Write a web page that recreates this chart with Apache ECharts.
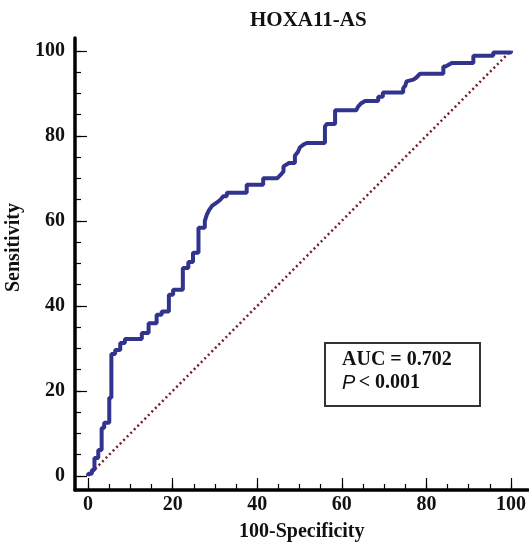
<!DOCTYPE html>
<html>
<head>
<meta charset="utf-8">
<script src="https://cdn.jsdelivr.net/npm/echarts@6/dist/echarts.min.js"></script>
<style>
  html, body { margin: 0; padding: 0; background: #fff; }
  #main { width: 529px; height: 551px; }
</style>
</head>
<body>
<div id="main"></div>
<script>
// data
var chartTitle = 'HOXA11-AS';
var xName = '100-Specificity';
var yName = 'Sensitivity';
var xTickLabels = [0, 20, 40, 60, 80, 100];
var yTickLabels = [0, 20, 40, 60, 80, 100];
// ROC curve vertices (100-Specificity, Sensitivity)
var rocFpr = [0, 0, 0.9, 0.9, 1.5, 1.5, 2.4, 2.4, 3.2, 3.2, 3.8, 3.8, 5.0, 5.0, 5.5, 5.5, 6.4, 6.4, 7.6, 7.6, 8.7, 8.7,
  12.7, 12.7, 14.3, 14.3, 16.2, 16.2, 17.4, 17.4, 19.1, 19.1, 20.1, 20.1, 22.4, 22.4, 23.7, 23.7, 24.8, 24.8,
  26.1, 26.1, 27.6, 27.6, 28.1, 28.6, 29.3, 30.3, 31.2, 32.0, 32.8, 32.8, 37.5, 37.5, 41.4, 41.4, 44.7, 45.5,
  46.2, 46.2, 47.5, 48.9, 48.9, 49.6, 50.1, 51.0, 51.7, 56.0, 56.0, 56.5, 58.4, 58.4, 63.4, 63.8, 64.5, 65.5,
  68.6, 68.6, 69.7, 69.7, 74.5, 74.5, 75.0, 75.3, 76.9, 77.5, 78.5, 84.0, 84.0, 84.5, 86.0, 91.1, 91.1, 95.8,
  95.8, 100, 100];
var rocTpr = [0, 0.5, 0.5, 1.4, 1.4, 4.2, 4.2, 6.1, 6.1, 11.3, 11.3, 12.5, 12.5, 18.4, 18.4, 28.7, 28.7, 29.6, 29.6, 31.3, 31.3, 32.2,
  32.2, 33.6, 33.6, 35.9, 35.9, 37.9, 37.9, 38.7, 38.7, 42.6, 42.6, 43.8, 43.8, 48.9, 48.9, 50.3, 50.3, 52.5,
  52.5, 58.4, 58.4, 60.0, 61.5, 62.5, 63.5, 64.2, 64.9, 65.8, 65.8, 66.6, 66.6, 68.5, 68.5, 70.0, 70.0, 70.8,
  71.6, 72.8, 73.6, 73.6, 75.3, 76.2, 77.3, 78.0, 78.3, 78.3, 82.2, 82.8, 82.8, 86.0, 86.0, 86.8, 87.6, 88.2,
  88.2, 89.2, 89.2, 90.2, 90.2, 91.2, 91.8, 92.8, 93.2, 93.6, 94.6, 94.6, 96.3, 96.3, 97.1, 97.1, 98.8, 98.8,
  99.6, 99.6, 100];
var chanceX = [0, 100];
var chanceY = [0, 100];
var aucLabel = 'AUC = 0.702';
var pLabel = '< 0.001';

var rocData = [];
rocFpr.forEach(function(v, i) {
  rocData.push([v, rocTpr[i]]);
});
var chanceData = [];
chanceX.forEach(function(v, i) {
  chanceData.push([v, chanceY[i]]);
});

// minor ticks every 5
var minorTicks = [];
for (var t = 0; t <= 100; t += 5) minorTicks.push(t);

var serif = '"Liberation Serif", "Times New Roman", serif';
var labelStyle = {
  fontFamily: serif,
  fontWeight: 'bold',
  fontSize: 20,
  color: '#111'
};

var chart = echarts.init(document.getElementById('main'));
chart.setOption({
  animation: false,
  backgroundColor: '#fff',
  title: {
    text: chartTitle,
    left: 245,
    top: 5,
    textStyle: {
      fontFamily: serif,
      fontWeight: 'bold',
      fontSize: 21,
      color: '#111'
    }
  },
  grid: {
    left: 75,
    top: 38,
    width: 453,
    height: 452
  },
  xAxis: [{
    type: 'value',
    min: -3.1,
    max: 104,
    splitLine: { show: false },
    axisLine: { show: true, onZero: false, lineStyle: { color: '#000', width: 3.5 } },
    axisTick: {
      show: true, inside: true, length: 12, customValues: xTickLabels,
      lineStyle: { color: '#000', width: 1.2 }
    },
    axisLabel: Object.assign({ customValues: xTickLabels, margin: 5 }, labelStyle)
  }, {
    type: 'value',
    position: 'bottom',
    min: -3.1,
    max: 104,
    splitLine: { show: false },
    axisLine: { show: false, onZero: false },
    axisTick: {
      show: true, inside: true, length: 6, customValues: minorTicks,
      lineStyle: { color: '#000', width: 1.2 }
    },
    axisLabel: { show: false }
  }],
  yAxis: [{
    type: 'value',
    min: -3.3,
    max: 103,
    splitLine: { show: false },
    axisLine: { show: true, onZero: false, lineStyle: { color: '#000', width: 3.5 } },
    axisTick: {
      show: true, inside: true, length: 12, customValues: yTickLabels,
      lineStyle: { color: '#000', width: 1.2 }
    },
    axisLabel: Object.assign({ customValues: yTickLabels, margin: 10 }, labelStyle)
  }, {
    type: 'value',
    position: 'left',
    min: -3.3,
    max: 103,
    splitLine: { show: false },
    axisLine: { show: false, onZero: false },
    axisTick: {
      show: true, inside: true, length: 6, customValues: minorTicks,
      lineStyle: { color: '#000', width: 1.2 }
    },
    axisLabel: { show: false }
  }],
  graphic: [{
    type: 'text',
    left: 239,
    top: 522,
    style: {
      text: xName,
      font: 'bold 20px ' + serif,
      fill: '#111'
    }
  }, {
    type: 'text',
    x: 4,
    y: 292,
    rotation: Math.PI / 2,
    style: {
      text: yName,
      font: 'bold 20px ' + serif,
      fill: '#111'
    }
  }, {
    type: 'rect',
    shape: { x: 325, y: 343, width: 155, height: 63 },
    style: { fill: '#fff', stroke: '#333', lineWidth: 2 }
  }, {
    type: 'text',
    x: 342,
    y: 350,
    style: {
      text: aucLabel,
      font: 'bold 20px ' + serif,
      fill: '#111'
    }
  }, {
    type: 'text',
    x: 342,
    y: 373,
    style: {
      text: '{p|P} {b|' + pLabel + '}',
      rich: {
        p: { fontFamily: '"Liberation Sans", Arial, sans-serif', fontStyle: 'italic', fontSize: 20, fill: '#111' },
        b: { fontFamily: serif, fontWeight: 'bold', fontSize: 20, fill: '#111' }
      }
    }
  }],
  series: [{
    name: 'chance',
    type: 'line',
    data: chanceData,
    showSymbol: false,
    silent: true,
    lineStyle: { color: '#6e1f24', width: 2.5, type: [2, 3] }
  }, {
    name: chartTitle,
    type: 'line',
    data: rocData,
    showSymbol: false,
    lineStyle: { color: '#31338c', width: 4 }
  }]
});
</script>
</body>
</html>
